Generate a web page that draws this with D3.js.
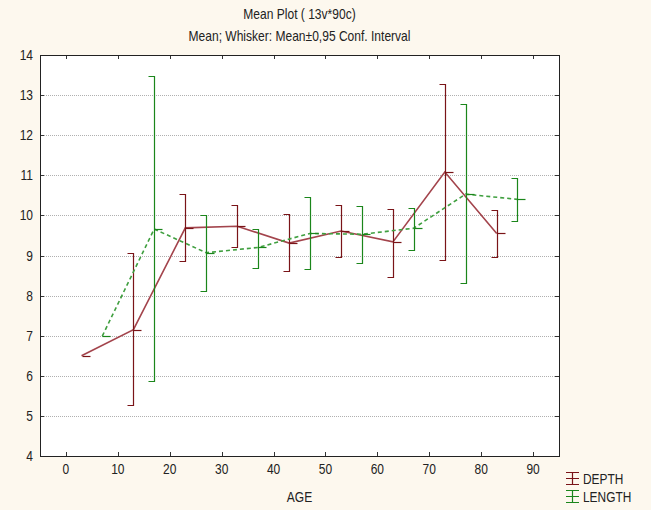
<!DOCTYPE html>
<head>
    <meta charset="utf-8">
    <title>Mean Plot</title>
    <script src="https://d3js.org/d3.v7.min.js"></script>
    <style>
        body { margin: 0; background: #fdf8ee; }
        text { font-family: 'Liberation Sans', Arial, sans-serif; fill: #222; }
    </style>
</head>
<body>
<script>
    // age groups: depth plotted at mid-2, length at mid+2
    var depthAge = [3, 13, 23, 33, 43, 53, 63, 73, 83];
    var depthMean = [6.5, 7.15, 9.69, 9.73, 9.31, 9.61, 9.34, 11.08, 9.55];
    var depthLow = [null, 5.26, 8.86, 9.22, 8.61, 8.97, 8.47, 8.9, 8.97];
    var depthHigh = [null, 9.05, 10.53, 10.25, 10.03, 10.25, 10.17, 13.27, 10.14];

    var lengthAge = [7, 17, 27, 37, 47, 57, 67, 77, 87];
    var lengthMean = [6.99, 9.66, 9.07, 9.2, 9.55, 9.53, 9.68, 10.53, 10.4];
    var lengthLow = [null, 5.88, 8.11, 8.7, 8.66, 8.81, 9.13, 8.31, 9.86];
    var lengthHigh = [null, 13.48, 10.01, 9.67, 10.45, 10.23, 10.19, 12.77, 10.93];

    var xTicks = [0, 10, 20, 30, 40, 50, 60, 70, 80, 90];
    var yTicks = [4, 5, 6, 7, 8, 9, 10, 11, 12, 13, 14];

    var width = 651, height = 510;
    var pl = 40, pr = 559, pt = 55, pb = 456;

    var svg = d3.select("body").append("svg")
        .attr("width", width)
        .attr("height", height);

    var x = d3.scaleLinear().domain([-5, 95]).range([pl, pr]);
    var y = d3.scaleLinear().domain([4, 14]).range([pb, pt]);

    // narrow-looking text: squeeze horizontally
    function label(tx, ty, str, size, anchor, sx) {
        svg.append("text")
            .attr("transform", "translate(" + tx + "," + ty + ") scale(" + (sx || 0.8) + ",1)")
            .attr("text-anchor", anchor || "middle")
            .attr("font-size", size)
            .text(str);
    }

    svg.append("rect")
        .attr("x", pl).attr("y", pt)
        .attr("width", pr - pl).attr("height", pb - pt)
        .attr("fill", "white");

    // grid
    svg.selectAll(".grid")
        .data(yTicks.slice(1, -1))
        .enter().append("line")
        .attr("x1", pl).attr("x2", pr)
        .attr("y1", function (d) { return Math.round(y(d)) + 0.5; })
        .attr("y2", function (d) { return Math.round(y(d)) + 0.5; })
        .attr("stroke", "#b0b0b0")
        .attr("stroke-dasharray", "1,1");

    // ticks, all pointing inward
    var tl = 4;
    svg.selectAll(".xt")
        .data(xTicks)
        .enter().append("path")
        .attr("d", function (d) {
            var px = Math.round(x(d)) + 0.5;
            return "M" + px + "," + pb + "v" + (-tl) + "M" + px + "," + pt + "v" + tl;
        })
        .attr("stroke", "#333");
    svg.selectAll(".yt")
        .data(yTicks)
        .enter().append("path")
        .attr("d", function (d) {
            var py = Math.round(y(d)) + 0.5;
            return "M" + pl + "," + py + "h" + tl + "M" + pr + "," + py + "h" + (-tl);
        })
        .attr("stroke", "#333");

    svg.append("rect")
        .attr("x", pl + 0.5).attr("y", pt + 0.5)
        .attr("width", pr - pl).attr("height", pb - pt)
        .attr("fill", "none")
        .attr("stroke", "#222");

    xTicks.forEach(function (d) { label(x(d), 474, d, 15); });
    yTicks.forEach(function (d) { label(33, y(d) + 5, d, 15, "end"); });

    var cx = (pl + pr) / 2;
    label(cx, 19, "Mean Plot ( 13v*90c)", 14, "middle", 0.86);
    label(cx, 41, "Mean; Whisker: Mean\u00b10,95 Conf. Interval", 14, "middle", 0.86);
    label(cx, 502, "AGE", 14, "middle", 0.86);

    var series = [
        { name: "DEPTH", age: depthAge, mean: depthMean, low: depthLow, high: depthHigh,
          dark: "#7a1418", line: "#a3444c", dash: null },
        { name: "LENGTH", age: lengthAge, mean: lengthMean, low: lengthLow, high: lengthHigh,
          dark: "#1b861b", line: "#3f9f3f", dash: "4,3" }
    ];

    var lineGen = d3.line()
        .x(function (d) { return x(d[0]); })
        .y(function (d) { return y(d[1]); });

    series.forEach(function (s) {
        var pts = s.age.map(function (a, i) { return [a, s.mean[i]]; });
        svg.append("path")
            .attr("d", lineGen(pts))
            .attr("fill", "none")
            .attr("stroke", s.line)
            .attr("stroke-width", 1.6)
            .attr("stroke-dasharray", s.dash);

        var g = svg.append("g").attr("stroke", s.dark).attr("fill", "none").attr("stroke-width", 1.2);
        s.age.forEach(function (a, i) {
            var px = Math.round(x(a)) + 0.5;
            var pm = Math.round(y(s.mean[i])) + 0.5;
            g.append("path").attr("d", "M" + px + "," + pm + "h8");
            if (s.low[i] == null) return;
            var ph = Math.round(y(s.high[i])) + 0.5, plo = Math.round(y(s.low[i])) + 0.5;
            g.append("path").attr("d", "M" + (px - 6) + "," + ph + "H" + px + "V" + plo + "H" + (px - 6));
        });
    });

    // legend
    series.forEach(function (s, i) {
        var ly = 479 + i * 18;
        var g = svg.append("g").attr("stroke", s.dark).attr("stroke-width", 1.2);
        g.append("path").attr("d",
            "M566," + (ly - 6.5) + "h13M566," + (ly - 0.5) + "h13M566," + (ly + 5.5) + "h13M572.5," + (ly - 6.5) + "v12");
        label(583, ly + 5, s.name, 14, "start", 0.85);
    });
</script>
</body>
</html>
